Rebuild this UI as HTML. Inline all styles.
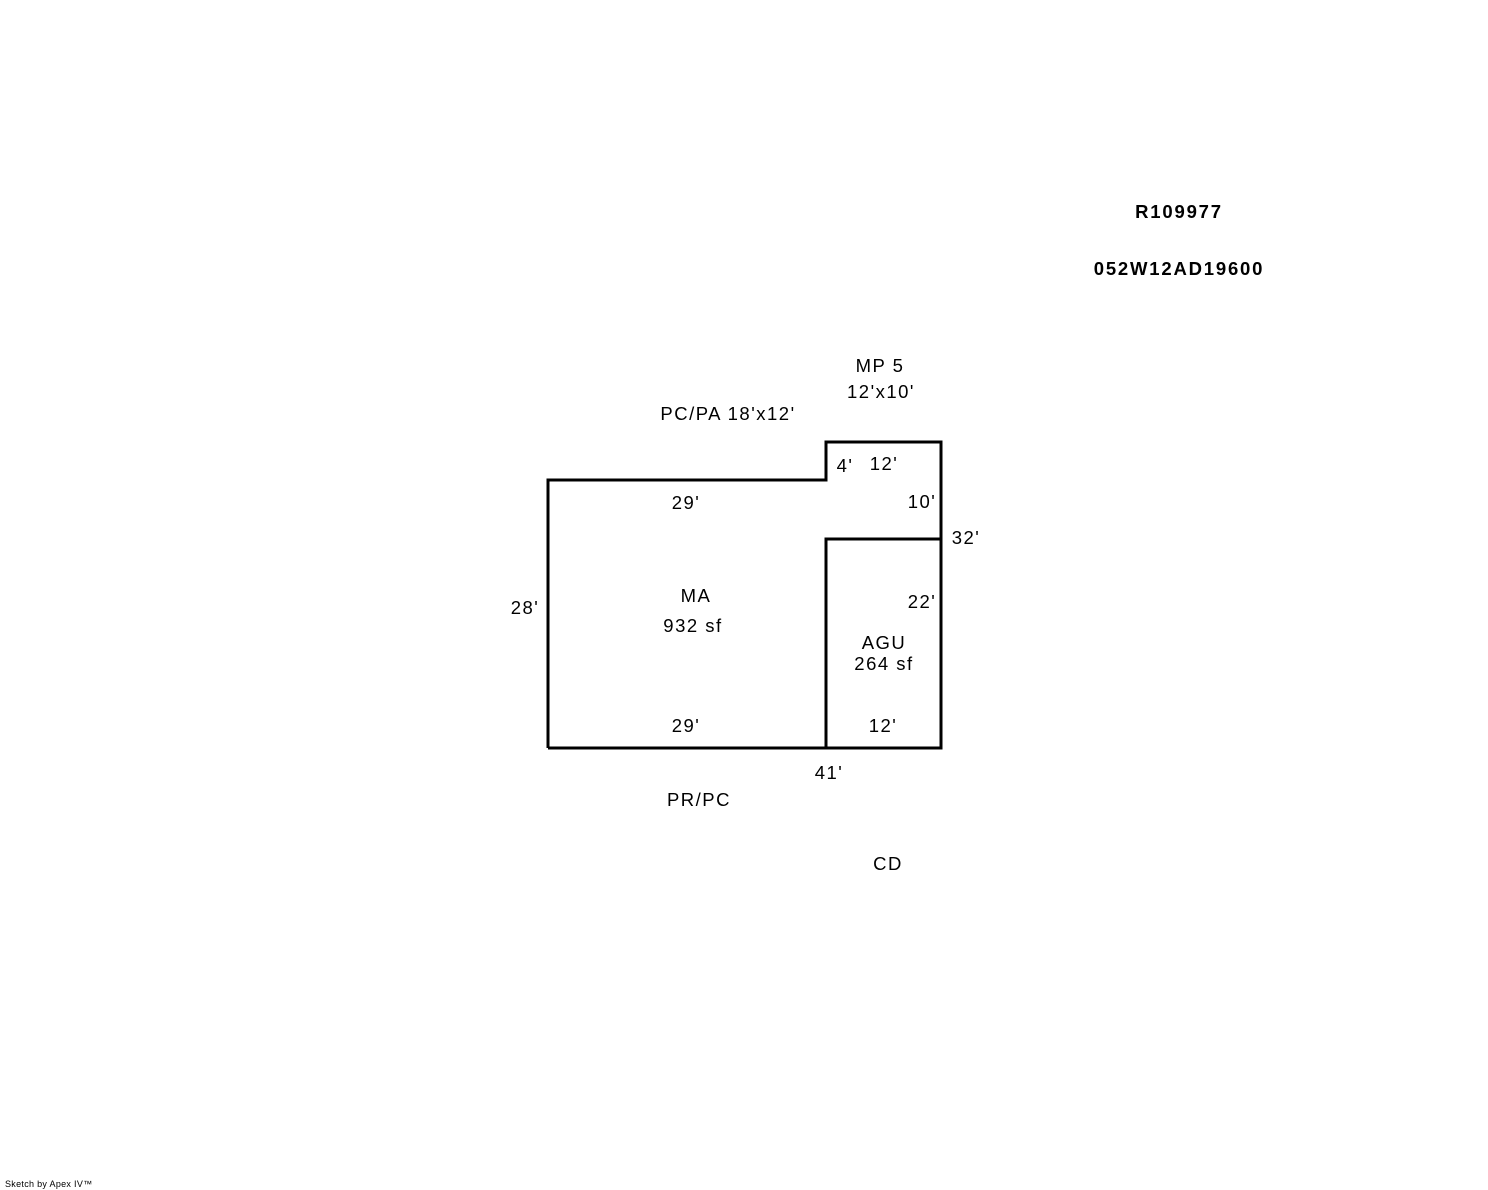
<!DOCTYPE html>
<html><head><meta charset="utf-8"><style>
html,body{margin:0;padding:0;background:#fff;}
svg{display:block;}
text{font-family:"Liberation Sans",Arial,sans-serif;font-size:18.5px;letter-spacing:1.5px;fill:#000;}
.b{font-weight:bold;font-size:18.5px;letter-spacing:1.8px;}
</style></head><body>
<svg width="1488" height="1190" viewBox="0 0 1488 1190" xmlns="http://www.w3.org/2000/svg">
<g fill="none" stroke="#000" stroke-width="3">
<polyline points="548,748 548,480 826,480 826,442 941,442 941,748 548,748"/>
<polyline points="826,748 826,539 941,539"/>
</g>
<g text-anchor="middle">
<text class="b" x="1179" y="218">R109977</text>
<text class="b" x="1179" y="275">052W12AD19600</text>
<text x="880" y="372">MP 5</text>
<text x="881" y="398">12'x10'</text>
<text x="728" y="420">PC/PA 18'x12'</text>
<text x="845" y="472">4'</text>
<text x="884" y="470">12'</text>
<text x="686" y="509">29'</text>
<text x="922" y="508">10'</text>
<text x="966" y="544">32'</text>
<text x="696" y="602">MA</text>
<text x="693" y="632">932 sf</text>
<text x="525" y="614">28'</text>
<text x="922" y="608">22'</text>
<text x="884" y="649">AGU</text>
<text x="884" y="670">264 sf</text>
<text x="686" y="732">29'</text>
<text x="883" y="732">12'</text>
<text x="829" y="779">41'</text>
<text x="699" y="806">PR/PC</text>
<text x="888" y="870">CD</text>
</g>
<text x="5" y="1187" style="font-size:9px;letter-spacing:0.3px">Sketch by Apex IV™</text>
</svg>
</body></html>
